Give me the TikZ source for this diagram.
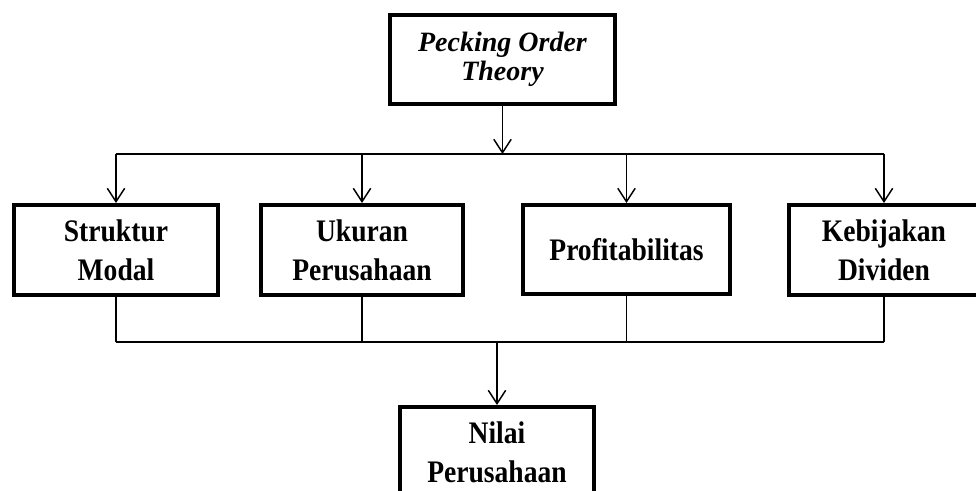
\documentclass[tikz,border=0pt]{standalone}
\usepackage{fontspec}
\setmainfont{Liberation Serif}
\newfontfamily\rapat{Liberation Serif}[FakeStretch=0.88]
\usepackage{tikz}
\usetikzlibrary{arrows.meta}

\begin{document}
\begin{tikzpicture}[x=0.75pt, y=-0.75pt,
        kotak/.style={draw, line width=3pt, align=center, inner sep=0pt, minimum height=67.5pt, font=\rapat\bfseries\fontsize{23.5}{29}\selectfont},
        garis/.style={line width=1.1pt},
        panah/.style={garis, -{Straight Barb[length=10pt, width=13pt]}}]
                \path[use as bounding box, clip] (0,0) rectangle (976,491);
                % Theory on top, variables in the middle, firm value at the bottom
                \node[kotak, minimum width=168.75pt, minimum height=66.75pt, font=\bfseries\itshape\fontsize{21}{22}\selectfont] (po) at (502.5,59.5) {Pecking Order\\Theory};
                \node[kotak, minimum width=153pt] (sm) at (116,250) {Struktur\\Modal};
                \node[kotak, minimum width=152pt] (up) at (362,250) {Ukuran\\Perusahaan};
                \node[kotak, minimum width=155pt, minimum height=66.75pt] (pr) at (626.5,249.5) {Profitabilitas};
                \node[kotak, minimum width=142.5pt] (kd) at (884,250) {Kebijakan\\Dividen};
                \node[kotak, minimum width=145pt] (nilai) at (497,452) {Nilai\\Perusahaan};

                \coordinate (atas) at (502.5,154);
                \coordinate (bawah) at (497,342);

                \draw[panah] (po) -- (atas);
                \draw[garis] (atas -| sm) -- (atas -| kd);
                \foreach \v in {sm, up, pr, kd} {
                    \draw[panah] (atas -| \v) -- (\v);
                    \draw[garis] (\v) -- (bawah -| \v);
                }
                \draw[garis] (bawah -| sm) -- (bawah -| kd);
                \draw[panah] (bawah) -- (nilai);
            \end{tikzpicture}
\end{document}
